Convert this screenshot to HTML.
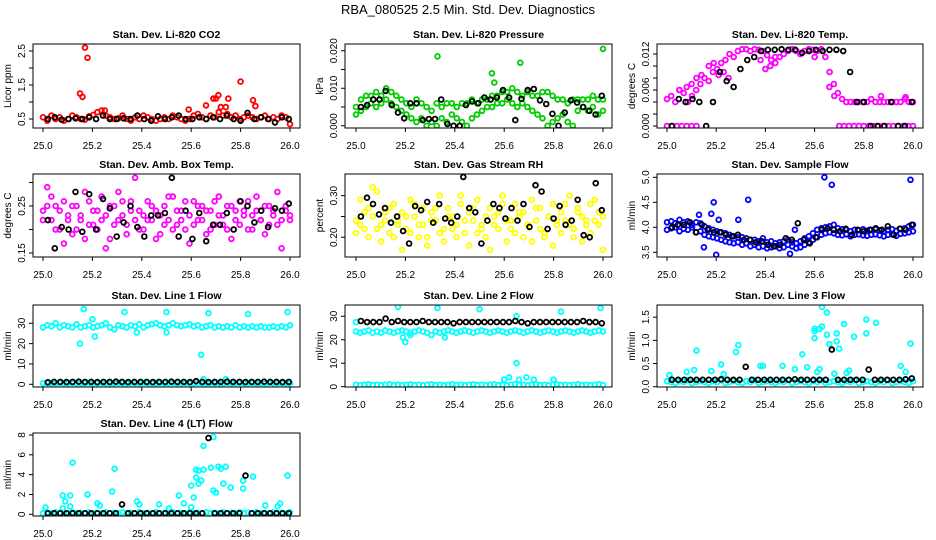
<!DOCTYPE html>
<html><head><meta charset="utf-8"><style>
html,body{margin:0;padding:0;background:#fff;}
svg{display:block;font-family:"Liberation Sans",Arial,sans-serif;}
</style></head><body>
<svg id="chart" width="936" height="540" viewBox="0 0 936 540" xmlns="http://www.w3.org/2000/svg">
<text x="468" y="14" text-anchor="middle" font-size="13">RBA_080525  2.5 Min. Std. Dev. Diagnostics</text>
</svg>
<script>
// ---- data arrays ----
const xTicks = [25.0,25.2,25.4,25.6,25.8,26.0];
const xTickLabels = ["25.0","25.2","25.4","25.6","25.8","26.0"];

const co2Red = [0.55,0.45,0.6,0.5,0.55,0.45,0.5,0.6,0.55,0.5,0.48,0.58,0.62,0.7,0.75,0.6,0.55,0.5,0.52,0.6,0.5,0.45,0.55,0.5,0.6,0.55,0.5,0.45,0.5,0.55,0.5,0.6,0.55,0.5,0.45,0.5,0.6,0.65,0.55,0.5,0.6,0.55,0.7,0.6,0.65,0.55,0.6,0.5,0.55,0.6,0.55,0.5,0.55,0.6,0.5,0.55,0.5,0.6,0.55,0.35];
const co2OutX = [25.15,25.16,25.17,25.18,25.25,25.66,25.69,25.7,25.71,25.72,25.74,25.75,25.8,25.85,25.86,25.59];
const co2OutY = [1.25,1.15,2.6,2.3,0.75,0.9,1.1,1.1,1.2,0.85,0.85,1.1,1.6,1.05,0.88,0.78];
const co2Black = [0.5,0.55,0.48,0.5,0.52,0.5,0.55,0.5,0.6,0.5,0.5,0.52,0.5,0.6,0.5,0.45,0.58,0.5,0.55,0.6,0.5,0.5,0.55,0.5,0.55,0.5,0.6,0.5,0.45,0.68,0.5,0.55,0.5,0.4,0.55,0.5];

const presGreenA = [0.005,0.007,0.008,0.008,0.009,0.008,0.01,0.009,0.008,0.007,0.006,0.005,0.007,0.006,0.005,0.004,0.006,0.005,0.006,0.006,0.005,0.006,0.006,0.007,0.006,0.007,0.007,0.008,0.008,0.009,0.009,0.01,0.009,0.008,0.009,0.008,0.008,0.009,0.009,0.008,0.007,0.007,0.006,0.007,0.007,0.007,0.007,0.008,0.007,0.007];
const presGreenB = [0.003,0.004,0.005,0.006,0.005,0.006,0.007,0.006,0.005,0.004,0.003,0.002,0.001,0.002,0.0,0.001,0.0,0.002,0.001,0.003,0.002,0.001,0.0,0.002,0.003,0.004,0.005,0.005,0.006,0.006,0.007,0.006,0.005,0.006,0.005,0.004,0.003,0.002,0.0,0.001,0.002,0.003,0.001,0.0,0.004,0.005,0.004,0.005,0.003,0.004];
const presOutX = [25.33,25.55,25.56,25.665,26.0];
const presOutY = [0.0185,0.014,0.0115,0.0168,0.0205];
const presBlack = [0.005,0.0055,0.007,0.007,0.0093,0.0055,0.0035,0.002,0.006,0.006,0.0015,0.0018,0.0018,0.007,0.0005,0.0,0.0,0.0055,0.0065,0.006,0.0075,0.007,0.0075,0.0095,0.0075,0.0015,0.0072,0.0095,0.0098,0.0068,0.0058,0.0032,0.0,0.0035,0.0068,0.0062,0.005,0.004,0.003,0.008];

const tempMag = [0.0045,0.005,0.004,0.006,0.0055,0.004,0.005,0.006,0.007,0.008,0.0075,0.009,0.0095,0.0105,0.011,0.012,0.0115,0.0125,0.0128,0.0128,0.0125,0.0128,0.0127,0.0125,0.0118,0.011,0.0105,0.0115,0.012,0.0125,0.0128,0.0125,0.012,0.0125,0.0128,0.0127,0.0125,0.0128,0.0115,0.009,0.007,0.0055,0.0045,0.004,0.004,0.004,0.004,0.004,0.004,0.0045,0.004,0.004,0.004,0.004,0.004,0.004,0.004,0.0045,0.004,0.004];
const tempExtraX = [25.05,25.08,25.1,25.12,25.14,25.17,25.19,25.21,25.23,25.25,25.38,25.4,25.42,25.44,25.6,25.66,25.68,25.87,25.97];
const tempExtraY = [0.006,0.0065,0.007,0.008,0.0085,0.01,0.0105,0.0085,0.009,0.008,0.011,0.0095,0.01,0.0115,0.0115,0.0065,0.005,0.005,0.0048];
const tempZeroX = [25.0,25.02,25.04,25.06,25.08,25.1,25.12,25.7,25.72,25.74,25.76,25.78,25.8,25.82,25.84,25.86,25.88,25.9,25.92,25.94,25.96,25.98,26.0];
const tempZeroY = [0,0,0,0,0,0,0,0,0,0,0,0,0,0,0,0,0,0,0,0,0,0,0];
const tempBlack = [0.0,0.0045,0.004,0.0045,0.004,0.0,0.004,0.009,0.0075,0.0065,0.0095,0.011,0.0115,0.0125,0.0127,0.0127,0.0128,0.0127,0.0127,0.0122,0.0125,0.0127,0.0125,0.0127,0.0127,0.0125,0.009,0.004,0.004,0.0,0.0,0.0,0.004,0.0,0.0,0.004];

const ambA = [0.24,0.29,0.22,0.25,0.2,0.26,0.23,0.19,0.25,0.22,0.28,0.21,0.24,0.2,0.27,0.23,0.18,0.25,0.22,0.26,0.21,0.24,0.31,0.2,0.23,0.26,0.22,0.24,0.19,0.25,0.22,0.27,0.21,0.24,0.2,0.23,0.26,0.22,0.25,0.19,0.24,0.21,0.27,0.23,0.2,0.25,0.22,0.26,0.24,0.2,0.23,0.27,0.22,0.25,0.21,0.24,0.28,0.22,0.25,0.23];
const ambB = [0.22,0.25,0.27,0.2,0.24,0.17,0.22,0.25,0.2,0.23,0.18,0.26,0.21,0.24,0.22,0.16,0.25,0.21,0.28,0.23,0.19,0.26,0.22,0.24,0.2,0.22,0.25,0.18,0.23,0.21,0.27,0.2,0.24,0.22,0.26,0.17,0.21,0.25,0.22,0.24,0.2,0.26,0.23,0.21,0.25,0.18,0.24,0.21,0.23,0.26,0.2,0.24,0.22,0.19,0.25,0.23,0.21,0.16,0.24,0.22];
const ambBlack = [0.22,0.16,0.205,0.2,0.28,0.195,0.275,0.2,0.265,0.245,0.185,0.215,0.25,0.205,0.185,0.23,0.23,0.235,0.31,0.185,0.24,0.18,0.235,0.175,0.21,0.21,0.235,0.2,0.26,0.25,0.215,0.24,0.205,0.245,0.24,0.255];

const rhA = [0.24,0.29,0.22,0.27,0.25,0.31,0.23,0.26,0.21,0.28,0.24,0.26,0.22,0.29,0.25,0.23,0.27,0.2,0.26,0.24,0.3,0.22,0.27,0.25,0.23,0.28,0.21,0.26,0.24,0.29,0.22,0.25,0.27,0.23,0.26,0.3,0.24,0.22,0.28,0.25,0.26,0.23,0.29,0.24,0.27,0.21,0.25,0.28,0.23,0.26,0.24,0.3,0.22,0.27,0.25,0.23,0.28,0.24,0.26,0.25];
const rhB = [0.21,0.23,0.26,0.2,0.32,0.22,0.19,0.24,0.27,0.2,0.23,0.17,0.25,0.21,0.28,0.2,0.23,0.18,0.24,0.27,0.21,0.19,0.25,0.22,0.2,0.3,0.24,0.18,0.27,0.21,0.23,0.2,0.17,0.25,0.22,0.28,0.19,0.24,0.21,0.26,0.2,0.23,0.19,0.27,0.22,0.2,0.25,0.18,0.24,0.21,0.28,0.23,0.2,0.26,0.19,0.24,0.21,0.29,0.23,0.17];
const rhBlack = [0.25,0.295,0.28,0.255,0.27,0.235,0.25,0.215,0.185,0.275,0.265,0.285,0.235,0.28,0.245,0.235,0.25,0.345,0.27,0.26,0.185,0.24,0.28,0.27,0.245,0.27,0.24,0.28,0.225,0.325,0.31,0.22,0.245,0.275,0.23,0.24,0.29,0.205,0.2,0.33,0.265];

const flowA = [4.1,4.12,4.08,4.15,4.1,4.12,4.05,4.1,4.08,4.02,3.98,3.95,3.92,3.9,3.88,3.85,3.82,3.8,3.8,3.78,3.75,3.75,3.72,3.78,3.7,3.72,3.68,3.7,3.72,3.75,3.7,3.68,3.72,3.78,3.82,3.88,3.95,3.98,4.0,4.02,4.05,3.98,3.96,3.95,3.92,3.95,3.94,3.96,3.93,3.95,3.96,3.94,3.92,3.95,3.96,3.93,3.97,3.98,4.02,4.05];
const flowB = [3.95,3.98,4.0,3.92,3.97,3.95,4.0,3.9,3.92,3.85,3.82,3.8,3.78,3.75,3.72,3.7,3.68,3.7,3.65,3.68,3.62,3.65,3.6,3.62,3.58,3.6,3.62,3.58,3.6,3.65,3.62,3.58,3.6,3.65,3.7,3.75,3.8,3.85,3.88,3.9,3.88,3.85,3.84,3.86,3.82,3.85,3.86,3.84,3.83,3.85,3.86,3.84,3.82,3.85,3.86,3.83,3.87,3.88,3.9,3.92];
const flowOutX = [25.15,25.18,25.19,25.2,25.21,25.29,25.33,25.64,25.67,25.99,25.5,25.52,25.13];
const flowOutY = [3.6,4.27,4.5,3.45,4.15,4.15,4.55,5.0,4.85,4.95,3.47,3.95,4.25];
const flowBlack = [4.0,4.05,4.05,4.1,3.9,4.05,3.95,3.9,3.9,3.85,3.82,3.85,3.75,3.75,3.7,3.72,3.65,3.62,3.65,3.78,3.75,4.08,3.75,3.68,3.8,3.95,3.98,3.95,3.92,3.97,3.85,3.95,3.92,3.95,3.98,3.95,4.02,3.85,3.97,3.95,4.05];

const l1Top = [28,29,28.5,30,28,29,28.5,28,29.5,28,28.5,29,28,28.5,29,30,28,27,29,28.5,28,29,28.5,29.5,28,29,29.5,30,29,28.5,29,30,29,28.5,29,29.5,28.5,29,28,28.5,29,28,28.5,28,28.5,28,29,28,28.5,28,28.5,28,28.5,28,28,28.5,28,28.5,28,29];
const l1Low = [0.5,0.6,0.5,0.4,0.6,0.5,0.5,0.6,0.5,0.4,0.5,0.6,0.5,0.5,0.6,0.5,0.4,0.5,0.6,0.5,0.5,0.6,0.5,0.5,0.6,0.5,0.5,0.4,0.6,0.5,0.5,0.6,0.5,0.5,0.6,0.5,0.5,0.6,0.5,0.5,0.6,0.5,0.5,0.4,0.6,0.5,0.5,0.6,0.5,0.5,0.6,0.5,0.5,0.4,0.6,0.5,0.5,0.6,0.5,0.5];
const l1OutX = [25.15,25.165,25.2,25.21,25.33,25.5,25.64,25.67,25.83,25.99,25.38,25.5,25.65,25.74];
const l1OutY = [20,37,32,23.5,35.5,35.5,14.5,35,34.5,35.5,25.5,25.5,2.5,2.5];
const l1Black = [1,1.2,1.2,1.1,1.2,1.3,1.2,1.2,1.1,1.2,1.2,1.3,1.2,1.1,1.2,1.2,1.2,1.1,1.2,1.2,1.3,1.2,1.2,1.1,1.5,1.2,1.1,1.2,1.2,1.3,1.2,1.2,1.1,1.2,1.2,1.3,1.2,1.2,1.1,1.2];

const l2Mid = [23.5,23,23.5,24,23,23.5,23,24,23.5,23,23.5,24,23.5,23,23.5,24,23.5,23,22,23.5,23,23.5,24,23.5,23,23.5,24,23.5,23,23.5,24,23.5,23,23.5,24,23.5,23,23.5,24,23.5,23,23.5,24,23.5,23,23.5,24,23.5,23,23.5,24,23.5,23,23.5,24,23.5,23,23.5,24,23.5];
const l2Low = [0.8,0.6,0.8,1,0.7,0.8,0.6,0.8,1,0.7,0.8,0.6,0.8,1,0.7,0.8,0.6,0.8,1,0.7,0.8,0.6,0.8,1,0.7,0.8,0.6,0.8,1,0.7,0.8,0.6,0.8,1,0.7,0.8,0.6,0.8,1,0.7,0.8,0.6,0.8,1,0.7,0.8,0.6,0.8,1,0.7,0.8,0.6,0.8,1,0.7,0.8,0.6,0.8,1,0.7];
const l2OutX = [25.0,25.17,25.19,25.2,25.33,25.5,25.6,25.62,25.65,25.65,25.66,25.69,25.8,25.83,25.99,25.36,25.22,25.72];
const l2OutY = [27.5,34,21,19,33.5,33,3,4,10,30,3,4,3,32,33.5,21,22,3];
const l2Black = [28,27.5,27.5,27.5,29,27.5,28,27.5,27.5,27.5,28,27.5,27.5,27.5,27.5,27,27.5,27.5,27.5,27.5,27.5,27.5,27.5,27.5,27.5,28,27.5,27,27.5,27.5,27.5,27.5,27.5,27.5,27.5,27.5,28,27.5,27.5,27];

const l3Cyan = [0.12,0.1,0.08,0.12,0.1,0.14,0.08,0.1,0.12,0.1,0.08,0.12,0.1,0.14,0.08,0.1,0.12,0.1,0.08,0.12,0.1,0.14,0.08,0.1,0.12,0.1,0.08,0.12,0.1,0.14,0.08,0.1,0.12,0.1,0.08,0.12,0.1,0.14,0.08,0.1,0.12,0.1,0.08,0.12,0.1,0.14,0.08,0.1,0.12,0.1,0.08,0.12,0.1,0.14,0.08,0.1,0.12,0.1,0.08,0.12];
const l3OutX = [25.01,25.08,25.11,25.12,25.18,25.22,25.23,25.28,25.29,25.38,25.39,25.47,25.52,25.55,25.57,25.6,25.6,25.61,25.62,25.62,25.63,25.63,25.65,25.65,25.66,25.68,25.69,25.69,25.7,25.72,25.73,25.74,25.76,25.81,25.81,25.85,25.95,25.97,25.99,25.6];
const l3OutY = [0.25,0.32,0.36,0.78,0.34,0.48,0.27,0.75,0.9,0.45,0.45,0.45,0.38,0.7,0.42,1.05,1.2,0.32,1.25,0.38,1.72,1.3,1.12,1.6,0.92,0.28,0.98,1.15,0.82,1.35,0.3,0.35,1.08,1.45,1.15,1.38,0.45,0.32,0.93,1.25];
const l3Black = [0.15,0.15,0.15,0.15,0.15,0.15,0.15,0.15,0.16,0.15,0.15,0.15,0.43,0.15,0.15,0.15,0.15,0.15,0.15,0.15,0.16,0.15,0.15,0.15,0.15,0.15,0.8,0.15,0.15,0.15,0.15,0.15,0.37,0.15,0.15,0.15,0.15,0.15,0.16,0.18];

const l4Cyan = [0.1,0.15,0.1,0.2,0.1,0.15,0.1,0.2,0.1,0.15,0.1,0.2,0.1,0.15,0.1,0.2,0.1,0.15,0.1,0.2,0.1,0.15,0.1,0.2,0.1,0.15,0.1,0.2,0.1,0.15,0.1,0.2,0.1,0.15,0.1,0.2,0.1,0.15,0.1,0.2,0.1,0.15,0.1,0.2,0.1,0.15,0.1,0.2,0.1,0.15,0.1,0.2,0.1,0.15,0.1,0.2,0.1,0.15,0.1,0.2];
const l4OutX = [25.01,25.08,25.08,25.09,25.11,25.11,25.12,25.18,25.22,25.23,25.28,25.29,25.38,25.39,25.47,25.51,25.55,25.57,25.6,25.6,25.61,25.62,25.62,25.63,25.63,25.64,25.65,25.65,25.68,25.69,25.69,25.7,25.71,25.72,25.73,25.74,25.76,25.81,25.81,25.85,25.9,25.95,25.96,25.99];
const l4OutY = [0.7,1.9,0.6,1.3,1.9,0.8,5.2,2.0,1.1,0.9,2.3,4.6,1.3,1.0,1.0,0.6,1.9,1.1,2.9,0.7,1.7,4.5,3.7,4.4,3.1,3.4,4.5,6.9,4.7,2.4,7.8,2.2,4.8,4.6,3.1,4.8,2.7,3.4,2.6,3.8,0.9,0.8,1.1,3.9];
const l4Black = [0.1,0.1,0.1,0.1,0.1,0.1,0.1,0.1,0.1,0.1,0.1,0.1,1.0,0.1,0.1,0.1,0.1,0.1,0.1,0.1,0.1,0.1,0.1,0.1,0.1,0.1,7.7,0.1,0.1,0.1,0.1,0.1,3.9,0.1,0.1,0.1,0.1,0.1,0.1,0.1];

// ---- rendering ----
const NS = "http://www.w3.org/2000/svg";
const svg = document.getElementById('chart');
function mk(tag, attrs, parent){
  const e = document.createElementNS(NS, tag);
  for (const k in attrs) e.setAttribute(k, attrs[k]);
  (parent||svg).appendChild(e);
  return e;
}
const colX = [{l:33,r:300,x0:43,x1:290},{l:345,r:612,x0:356,x1:603},{l:657,r:923,x0:667,x1:913}];
const rowY = [{t:44,b:128},{t:174,b:257},{t:305,b:387},{t:433,b:516}];

function evenX(n, a, b){ const o=[]; for(let i=0;i<n;i++) o.push(a+(b-a)*i/(n-1)); return o; }

const panels = [
 {name:'co2',title:'Stan. Dev. Li-820 CO2',ylab:'Licor ppm',c:0,r:0,ymin:0.235,ymax:2.706,ticks:[0.5,1,1.5,2,2.5],labels:{'0.5':'0.5','1.5':'1.5','2.5':'2.5'},
  series:[{col:'#ff0000',y:co2Red},{col:'#ff0000',x:co2OutX,y:co2OutY},{col:'#000',y:co2Black,k:1}]},
 {name:'pressure',title:'Stan. Dev. Li-820 Pressure',ylab:'kPa',c:1,r:0,ymin:-0.0006,ymax:0.0218,ticks:[0,0.005,0.01,0.015,0.02],labels:{'0':'0.000','0.01':'0.010','0.02':'0.020'},
  series:[{col:'#00cc00',y:presGreenA},{col:'#00cc00',y:presGreenB},{col:'#00cc00',x:presOutX,y:presOutY},{col:'#000',y:presBlack,k:1}]},
 {name:'temp',title:'Stan. Dev. Li-820 Temp.',ylab:'degrees C',c:2,r:0,ymin:-0.00033,ymax:0.01367,ticks:[0,0.002,0.004,0.006,0.008,0.01,0.012],labels:{'0':'0.000','0.006':'0.006','0.012':'0.012'},
  series:[{col:'#ff00ff',y:tempMag},{col:'#ff00ff',x:tempExtraX,y:tempExtraY},{col:'#ff00ff',x:tempZeroX,y:tempZeroY},{col:'#000',y:tempBlack,k:1}]},
 {name:'amb-box-temp',title:'Stan. Dev. Amb. Box Temp.',ylab:'degrees C',c:0,r:1,ymin:0.1415,ymax:0.318,ticks:[0.15,0.2,0.25,0.3],labels:{'0.15':'0.15','0.25':'0.25'},
  series:[{col:'#ff00ff',y:ambA},{col:'#ff00ff',y:ambB},{col:'#000',y:ambBlack,k:1}]},
 {name:'gas-rh',title:'Stan. Dev. Gas Stream RH',ylab:'percent',c:1,r:1,ymin:0.1526,ymax:0.352,ticks:[0.2,0.25,0.3],labels:{'0.2':'0.20','0.3':'0.30'},
  series:[{col:'#ffff00',y:rhA},{col:'#ffff00',y:rhB},{col:'#000',y:rhBlack,k:1}]},
 {name:'sample-flow',title:'Stan. Dev. Sample Flow',ylab:'ml/min',c:2,r:1,ymin:3.406,ymax:5.066,ticks:[3.5,4,4.5,5],labels:{'3.5':'3.5','4':'4.0','4.5':'4.5','5':'5.0'},
  series:[{col:'#0000ff',y:flowA},{col:'#0000ff',y:flowB},{col:'#0000ff',x:flowOutX,y:flowOutY},{col:'#000',y:flowBlack,k:1}]},
 {name:'line1-flow',title:'Stan. Dev. Line 1 Flow',ylab:'ml/min',c:0,r:2,ymin:-1.33,ymax:39,ticks:[0,10,20,30],labels:{'0':'0','10':'10','20':'20','30':'30'},
  series:[{col:'#00ffff',y:l1Top},{col:'#00ffff',y:l1Low},{col:'#00ffff',x:l1OutX,y:l1OutY},{col:'#000',y:l1Black,k:1}]},
 {name:'line2-flow',title:'Stan. Dev. Line 2 Flow',ylab:'ml/min',c:1,r:2,ymin:-0.13,ymax:34.8,ticks:[0,10,20,30],labels:{'0':'0','10':'10','20':'20','30':'30'},
  series:[{col:'#00ffff',y:l2Mid},{col:'#00ffff',y:l2Low},{col:'#00ffff',x:l2OutX,y:l2OutY},{col:'#000',y:l2Black,k:1}]},
 {name:'line3-flow',title:'Stan. Dev. Line 3 Flow',ylab:'ml/min',c:2,r:2,ymin:-0.006,ymax:1.763,ticks:[0,0.5,1,1.5],labels:{'0':'0.0','0.5':'0.5','1':'1.0','1.5':'1.5'},
  series:[{col:'#00ffff',y:l3Cyan},{col:'#00ffff',x:l3OutX,y:l3OutY},{col:'#000',y:l3Black,k:1}]},
 {name:'line4-flow',title:'Stan. Dev. Line 4 (LT) Flow',ylab:'ml/min',c:0,r:3,ymin:-0.17,ymax:8.2,ticks:[0,2,4,6,8],labels:{'0':'0','2':'2','4':'4','6':'6','8':'8'},
  series:[{col:'#00ffff',y:l4Cyan},{col:'#00ffff',x:l4OutX,y:l4OutY},{col:'#000',y:l4Black,k:1}]}
];

panels.forEach(p=>{
  const C = colX[p.c], R = rowY[p.r];
  const g = mk('g',{});
  
  
  const xs = v => C.x0 + (v-25)*(C.x1-C.x0);
  const ys = v => R.b - (v-p.ymin)/(p.ymax-p.ymin)*(R.b-R.t);
  const t = mk('text',{x:(C.l+C.r)/2,y:R.t-6,'text-anchor':'middle','font-size':'10.5','font-weight':'bold'},g);
  t.textContent = p.title;
  
  
  const clipId = 'clip-'+p.name;
  const cp = mk('clipPath',{id:clipId},g);
  mk('rect',{x:C.l,y:R.t,width:C.r-C.l,height:R.b-R.t},cp);
  const pts = mk('g',{'clip-path':'url(#'+clipId+')'},g);
  
  
  p.series.forEach(s=>{
    const xv = s.x || (s.k ? evenX(s.y.length,25.02,25.995) : evenX(s.y.length,25.0,26.0));
    s.y.forEach((v,i)=>{
      const c = mk('circle',{cx:xs(xv[i]).toFixed(1),cy:ys(v).toFixed(1),r:2.4,fill:'none',stroke:s.col,'stroke-width':1.8},pts);
      
      
    });
  });
  const box = mk('rect',{x:C.l,y:R.t,width:C.r-C.l,height:R.b-R.t,fill:'none',stroke:'#000','stroke-width':1},g);
  
  
  const xa = mk('g',{},g);
  
  
  xTicks.forEach((v,i)=>{
    mk('line',{x1:xs(v),x2:xs(v),y1:R.b,y2:R.b+4,stroke:'#000'},xa);
    const lt = mk('text',{x:xs(v),y:R.b+21,'text-anchor':'middle','font-size':'10'},xa);
    lt.textContent = xTickLabels[i];
  });
  const ya = mk('g',{},g);
  
  
  p.ticks.forEach(v=>{
    const y = ys(v);
    mk('line',{x1:C.l-4,x2:C.l,y1:y,y2:y,stroke:'#000'},ya);
    const lab = p.labels[String(v)];
    if (lab){
      const lt = mk('text',{x:C.l-8,y:y,'text-anchor':'middle','font-size':'10',transform:'rotate(-90 '+(C.l-8)+' '+y+')'},ya);
      lt.textContent = lab;
    }
  });
  const yl = mk('text',{x:C.l-22,y:(R.t+R.b)/2,'text-anchor':'middle','font-size':'10',transform:'rotate(-90 '+(C.l-22)+' '+((R.t+R.b)/2)+')'},g);
  yl.textContent = p.ylab;
  
  
});
</script>
</body></html>
